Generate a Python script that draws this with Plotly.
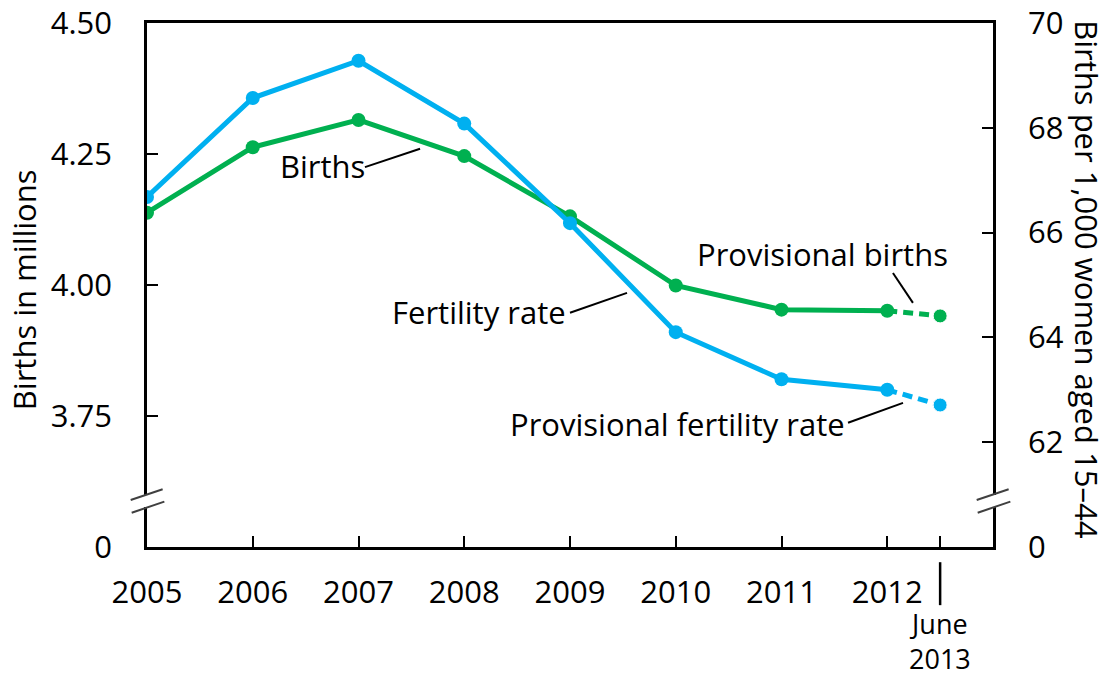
import plotly.graph_objects as go

years = [2005, 2006, 2007, 2008, 2009, 2010, 2011, 2012]
births = [4.138, 4.263, 4.315, 4.246, 4.131, 3.999, 3.953, 3.951]
fertility = [66.68, 68.57, 69.28, 68.08, 66.18, 64.10, 63.20, 63.00]
prov_x = [2012, 2012.5]
prov_births = [3.951, 3.941]
prov_fertility = [63.00, 62.71]

year_ticks = [2005, 2006, 2007, 2008, 2009, 2010, 2011, 2012, 2012.5]
year_labels = ["2005", "2006", "2007", "2008", "2009", "2010", "2011", "2012", ""]
left_vals = [3.5, 3.75, 4.0, 4.25, 4.5]
left_text = ["0", "3.75", "4.00", "4.25", "4.50"]
right_vals = [60, 62, 64, 66, 68, 70]
right_text = ["0", "62", "64", "66", "68", "70"]

GREEN = "#00B050"
BLUE = "#00B0F0"
FONT = "Open Sans"
FS = 31

fig = go.Figure()
fig.add_trace(go.Scatter(x=years, y=fertility, mode="lines+markers", yaxis="y2",
                         line=dict(color=BLUE, width=5),
                         marker=dict(size=14, color=BLUE, opacity=1)))
fig.add_trace(go.Scatter(x=prov_x, y=prov_fertility, mode="lines+markers", yaxis="y2",
                         line=dict(color=BLUE, width=5, dash="10px,6px"),
                         marker=dict(size=[0, 14], color=BLUE, opacity=1)))
fig.add_trace(go.Scatter(x=years, y=births, mode="lines+markers",
                         line=dict(color=GREEN, width=5),
                         marker=dict(size=14, color=GREEN, opacity=1)))
fig.add_trace(go.Scatter(x=prov_x, y=prov_births, mode="lines+markers",
                         line=dict(color=GREEN, width=5, dash="10px,6px"),
                         marker=dict(size=[0, 14], color=GREEN, opacity=1)))

axis_common = dict(showgrid=False, zeroline=False, showline=True, linecolor="black",
                   linewidth=2.5, ticks="inside", ticklen=11, tickwidth=2, tickcolor="black",
                   automargin=False,
                   tickfont=dict(family=FONT, size=FS, color="black"))

fig.update_layout(
    width=1109, height=676,
    margin=dict(l=147, r=116, t=23, b=129),
    paper_bgcolor="white", plot_bgcolor="white",
    showlegend=False,
    font=dict(family=FONT, color="black"),
    xaxis=dict(range=[2005, 2013], tickvals=year_ticks, ticktext=year_labels,
               mirror=True, ticklabelstandoff=16, **axis_common),
    yaxis=dict(range=[3.5, 4.5], tickvals=left_vals, ticktext=left_text,
               ticklabelstandoff=26, **axis_common),
    yaxis2=dict(range=[60, 70], tickvals=right_vals, ticktext=right_text,
                overlaying="y", side="right", ticklabelstandoff=26, **axis_common),
)

ann_font = dict(family=FONT, size=FS, color="black")
labels = [
    ("Births", 2006.664, 4.227),
    ("Fertility rate", 2008.139, 3.948),
    ("Provisional births", 2011.392, 4.059),
    ("Provisional fertility rate", 2010.012, 3.735),
]
for text, x, y in labels:
    fig.add_annotation(text=text, x=x, y=y, xref="x", yref="y", showarrow=False,
                       font=ann_font, xanchor="center", yanchor="middle")

leaders = [
    (2007.061, 4.225, 2007.582, 4.260),
    (2009.000, 3.947, 2009.539, 3.985),
    (2012.054, 4.023, 2012.243, 3.966),
    (2011.629, 3.737, 2012.149, 3.775),
]
for x0, y0, x1, y1 in leaders:
    fig.add_shape(type="line", xref="x", yref="y", x0=x0, y0=y0, x1=x1, y1=y1,
                  line=dict(color="black", width=2))

# axis titles
fig.add_annotation(text="Births in millions", xref="paper", yref="paper", x=-0.1454, y=0.492,
                   xanchor="center", yanchor="middle",
                   textangle=-90, showarrow=False, font=ann_font)
fig.add_annotation(text="Births per 1,000 women aged 15\u201344", xref="paper", yref="paper",
                   x=1.1111, y=0.511, xanchor="center", yanchor="middle",
                   textangle=90, showarrow=False, font=ann_font)

# June 2013 label
fig.add_annotation(text="June<br>2013", xref="x", yref="paper", x=2012.5, y=-0.1794,
                   showarrow=False, xanchor="center", yanchor="middle",
                   font=dict(family=FONT, size=27, color="black"))
fig.add_shape(type="line", xref="x", yref="paper", x0=2012.5, x1=2012.5, y0=-0.029, y1=-0.111,
              line=dict(color="black", width=2.5))

# axis breaks
for xc in (0.0, 1.0):
    fig.add_shape(type="rect", xref="paper", yref="paper", x0=xc - 0.006, x1=xc + 0.006,
                  y0=0.0763, y1=0.0992, line=dict(width=0), fillcolor="white", layer="above")
    fig.add_shape(type="line", xref="paper", yref="paper", x0=xc - 0.0193, y0=0.0897,
                  x1=xc + 0.0185, y1=0.1101, line=dict(color="#404040", width=2), layer="above")
    fig.add_shape(type="line", xref="paper", yref="paper", x0=xc - 0.0181, y0=0.0655,
                  x1=xc + 0.0205, y1=0.0865, line=dict(color="#404040", width=2), layer="above")

fig.write_html("out.html", config={"displayModeBar": False},
               post_script="document.body.style.margin='0';")
